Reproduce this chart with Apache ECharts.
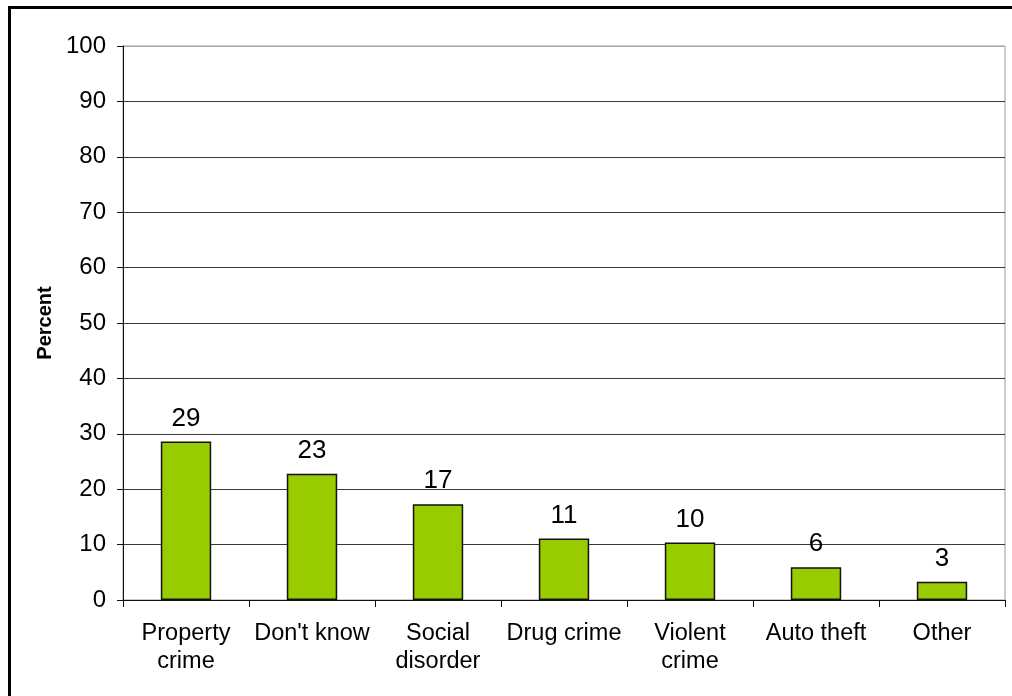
<!DOCTYPE html>
<html>
<head>
<meta charset="utf-8">
<script src="https://cdn.jsdelivr.net/npm/echarts@6/dist/echarts.min.js"></script>
<style>
html,body{margin:0;padding:0;background:#fff;}
#chart{width:1012px;height:696px;}
</style>
</head>
<body>
<div id="chart"></div>
<script>
const categories = ["Property\ncrime", "Don't know", "Social\ndisorder", "Drug crime", "Violent\ncrime", "Auto theft", "Other"];
const values = [28.6, 22.8, 17.3, 11.1, 10.4, 5.9, 3.3];
const valueLabels = ["29", "23", "17", "11", "10", "6", "3"];
const yTicks = [0, 10, 20, 30, 40, 50, 60, 70, 80, 90, 100];

const FONT = "'Liberation Sans', Arial, sans-serif";
const chart = echarts.init(document.getElementById('chart'), null, {renderer: 'canvas'});
const gridColors = yTicks.map((t, i) => i === yTicks.length - 1 ? '#aaaaaa' : '#3a3a3a');

chart.setOption({
  backgroundColor: '#ffffff',
  animation: false,
  graphic: [{
    type: 'rect',
    shape: {x: 9.5, y: 7.5, width: 1200, height: 900},
    style: {fill: 'none', stroke: '#000', lineWidth: 3},
    z: 100
  }],
  grid: {left: 123, right: 7, top: 46, bottom: 96, show: true, borderColor: '#999', borderWidth: 1, backgroundColor: 'transparent'},
  xAxis: {
    type: 'category',
    data: categories,
    axisLine: {lineStyle: {color: '#111', width: 1}},
    axisTick: {show: true, length: 7, lineStyle: {color: '#111'}},
    axisLabel: {color: '#000', fontFamily: FONT, fontSize: 23.5, lineHeight: 28, margin: 20, interval: 0}
  },
  yAxis: {
    type: 'value',
    min: 0, max: 100, interval: 10,
    name: 'Percent',
    nameLocation: 'middle',
    nameGap: 68,
    nameRotate: 90,
    nameTextStyle: {fontFamily: FONT, fontWeight: 'bold', fontSize: 20, color: '#000'},
    axisLine: {show: true, lineStyle: {color: '#111', width: 1}},
    axisTick: {show: true, length: 6, lineStyle: {color: '#111'}},
    axisLabel: {color: '#000', fontFamily: FONT, fontSize: 24, margin: 17,
      formatter: v => String(v)},
    splitLine: {show: true, lineStyle: {color: gridColors, width: 1}}
  },
  series: [{
    type: 'bar',
    data: values,
    barWidth: '40%',
    itemStyle: {color: '#99cc00', borderColor: '#111', borderWidth: 1.5},
    label: {
      show: true, position: 'top', distance: 10,
      fontFamily: FONT, fontSize: 26, color: '#000',
      formatter: p => valueLabels[p.dataIndex]
    }
  }]
});
</script>
</body>
</html>
